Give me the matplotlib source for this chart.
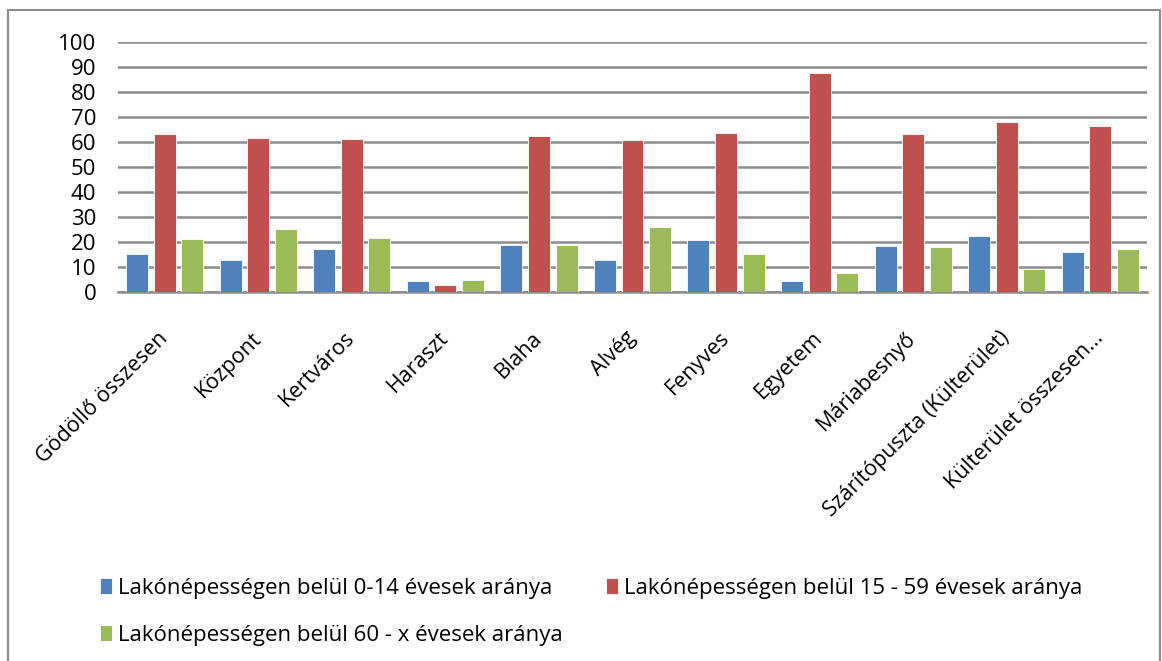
import numpy as np
import matplotlib.pyplot as plt
from matplotlib.lines import Line2D

# Kategóriák és értékek
categories = ['Gödöllő összesen', 'Központ', 'Kertváros', 'Haraszt', 'Blaha', 'Alvég',
              'Fenyves', 'Egyetem', 'Máriabesnyő', 'Szárítópuszta (Külterület)',
              'Külterület összesen...']
age_0_14 = [15.2, 13.0, 17.1, 4.3, 18.7, 12.8, 20.7, 4.5, 18.4, 22.4, 16.0]
age_15_59 = [63.2, 61.5, 61.1, 2.7, 62.5, 60.9, 63.8, 87.6, 63.3, 68.0, 66.5]
age_60_x = [21.2, 25.2, 21.5, 4.9, 18.7, 26.0, 15.2, 7.7, 17.9, 9.3, 17.4]
labels = ['Lakónépességen belül 0-14 évesek aránya',
          'Lakónépességen belül 15 - 59 évesek aránya',
          'Lakónépességen belül 60 - x évesek aránya']
colors = ['#4F81BD', '#C0504D', '#9BBB59']

plt.rcParams['font.family'] = ['Open Sans', 'DejaVu Sans']

fig = plt.figure(figsize=(11.62, 6.61), dpi=100)
ax = fig.add_axes([118 / 1162, 1 - 292 / 661, 1029 / 1162, 250 / 661])

x = np.arange(len(categories))
step = 0.295
width = 0.235
handles = []
for i, (vals, lab, col) in enumerate(zip([age_0_14, age_15_59, age_60_x], labels, colors)):
    b = ax.bar(x + (i - 1) * step, vals, width=width, color=col, label=lab,
               edgecolor='white', linewidth=0.6, zorder=3)
    handles.append(b)

ax.set_xlim(-0.5, len(categories) - 0.5)
ax.set_ylim(0, 100)
ax.set_yticks(range(0, 101, 10))
ax.yaxis.grid(True, color='#8C8C8C', linewidth=1.8, zorder=0)
ax.set_axisbelow(True)
for s in ['top', 'right', 'left']:
    ax.spines[s].set_visible(False)
ax.spines['bottom'].set_color('#8C8C8C')
ax.spines['bottom'].set_linewidth(1.8)
ax.tick_params(axis='y', length=0, labelsize=16, pad=15.5)
ax.tick_params(axis='x', length=0, labelsize=15.5, pad=31)
ax.set_xticks(x)
ax.set_xticklabels(categories, rotation=45, ha='right', va='center', rotation_mode='anchor')

# Jelmagyarázat soronként
order = [0, 2, 1]
fig.legend([handles[k] for k in order], [labels[k] for k in order],
           loc='upper left', bbox_to_anchor=(80 / 1162, 1 - 558 / 661), ncol=2,
           frameon=False, fontsize=16, handlelength=0.55, handleheight=0.7,
           handletextpad=0.25, columnspacing=1.95, labelspacing=1.15)

# Keret
fig.add_artist(Line2D([8 / 1162, 8 / 1162], [0, 1 - 10 / 661], color='#8C8C8C', lw=1.5))
fig.add_artist(Line2D([8 / 1162, 1160 / 1162], [1 - 10 / 661, 1 - 10 / 661], color='#8C8C8C', lw=1.5))
fig.add_artist(Line2D([1160 / 1162, 1160 / 1162], [0, 1 - 10 / 661], color='#8C8C8C', lw=1.5))

fig.savefig('out.png', dpi=100)
